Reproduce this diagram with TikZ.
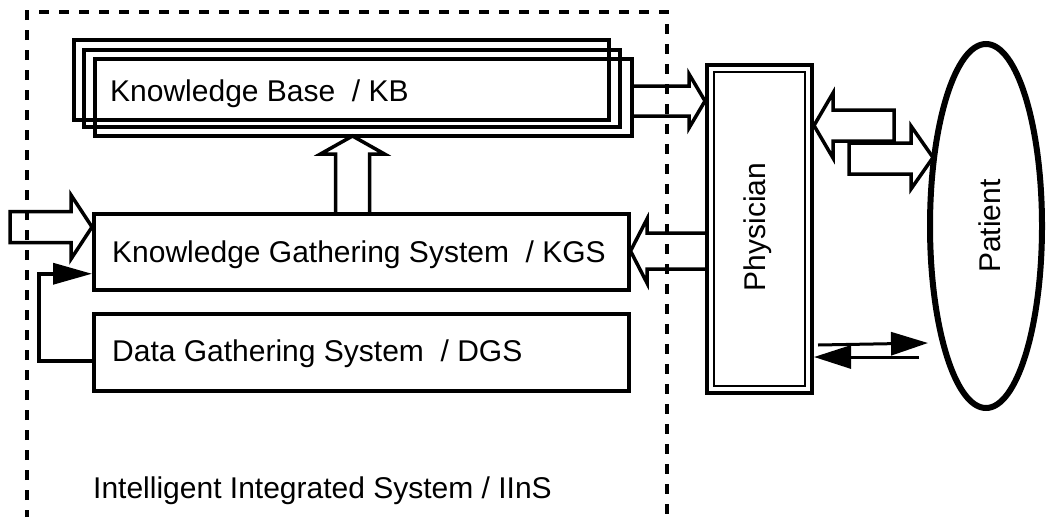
\documentclass[tikz,border=0pt]{standalone}
\usepackage{fontspec}
\setmainfont{Liberation Sans}
\usetikzlibrary{arrows.meta,shapes.geometric,calc}
\newcommand{\lblfont}{\fontsize{30pt}{34pt}\selectfont}
\begin{document}
\begin{tikzpicture}[x=1pt,y=-1pt,
  box/.style={draw,line width=3.5pt,inner sep=0pt,anchor=north west},
  lbl/.style={font=\lblfont,inner sep=0pt},
  blockarrow/.style={draw,line width=3.5pt,line join=miter},
  thinarrow/.style={line width=3pt,-{Triangle[length=37pt,width=23pt]}},
  fbarrow/.style={line width=3.5pt,-{Triangle[length=39pt,width=21pt]}},
  dashline/.style={line width=3.5pt,dash pattern=on 10pt off 10pt,dash phase=3pt}]
\path[use as bounding box,fill=white] (0,0) rectangle (1046,517);

% dashed system boundary
\draw[dashline] (27,517) -- (27,12) -- (667,12) -- (667,517);

% knowledge base (stacked)
\node[box,minimum width=535pt,minimum height=80pt] (kb1) at (72,38) {};
\node[box,minimum width=536pt,minimum height=77pt] (kb2) at (82,48) {};
\node[box,minimum width=537pt,minimum height=77pt] (kb3) at (93,57) {};
\node[lbl,anchor=base west] (kbt) at (110,101) {Knowledge Base~~/ KB};

% KGS and DGS
\node[box,minimum width=535pt,minimum height=76pt] (kgs) at (92,212) {};
\node[lbl,anchor=base west] (kgst) at (112,262) {Knowledge Gathering System~~/ KGS};
\node[box,minimum width=535pt,minimum height=77pt] (dgs) at (92,312) {};
\node[lbl,anchor=base west] (dgst) at (112,361) {Data Gathering System~~/ DGS};
\node[lbl,anchor=base west] (iins) at (93,498) {Intelligent Integrated System / IInS};

% physician
\node[draw,line width=4pt,inner sep=0pt,anchor=north west,minimum width=105pt,minimum height=328pt] (phys) at (705,63) {};
\node[draw,line width=1.8pt,inner sep=0pt,minimum width=91pt,minimum height=314pt] (physin) at (phys.center) {};
\node[lbl,rotate=90] (physt) at (757.5,227) {Physician};

% patient
\node[draw,ellipse,line width=6pt,inner sep=0pt,minimum width=112pt,minimum height=364pt] (pat) at (986,226) {};
\node[lbl,rotate=90] (patt) at (990,226) {Patient};

% block arrows
\draw[blockarrow] (10,211.5) -- (71,211.5) -- (71,195) -- (kgs.west |- 0,227) -- (71,259) -- (71,242.5) -- (10,242.5) -- cycle;
\draw[blockarrow] (335.5,212) -- (335.5,154) -- (320.5,154) -- (352.5,136) -- (384.5,154) -- (369.5,154) -- (369.5,212);
\draw[blockarrow] (kb3.east |- 0,86) -- (689,86) -- (689,74) -- (phys.west |- 0,101) -- (689,128) -- (689,116) -- (kb3.east |- 0,116);
\draw[blockarrow] (phys.west |- 0,233) -- (647,233) -- (647,219) -- (kgs.east |- 0,251) -- (647,283) -- (647,269) -- (phys.west |- 0,269);
\draw[blockarrow] (894,110) -- (833,110) -- (833,93) -- (phys.east |- 0,125.5) -- (833,158) -- (833,141) -- (894,141) -- cycle;
\draw[blockarrow] (849,143) -- (911,143) -- (911,126) -- (933,157.5) -- (911,189) -- (911,174) -- (849,174) -- cycle;

% feedback DGS -> KGS
\draw[fbarrow] ([yshift=-8.5pt]dgs.west) -- ++(-53,0) |- ([yshift=-22pt]kgs.west);

% physician <-> patient thin arrows
\coordinate (pu) at (928,343);
\coordinate (pl) at (919,357);
\draw[thinarrow] ($(phys.east)+(4,116)$) -- (pu);
\draw[thinarrow] (pl) -- (phys.east |- pl);
\end{tikzpicture}
\end{document}
